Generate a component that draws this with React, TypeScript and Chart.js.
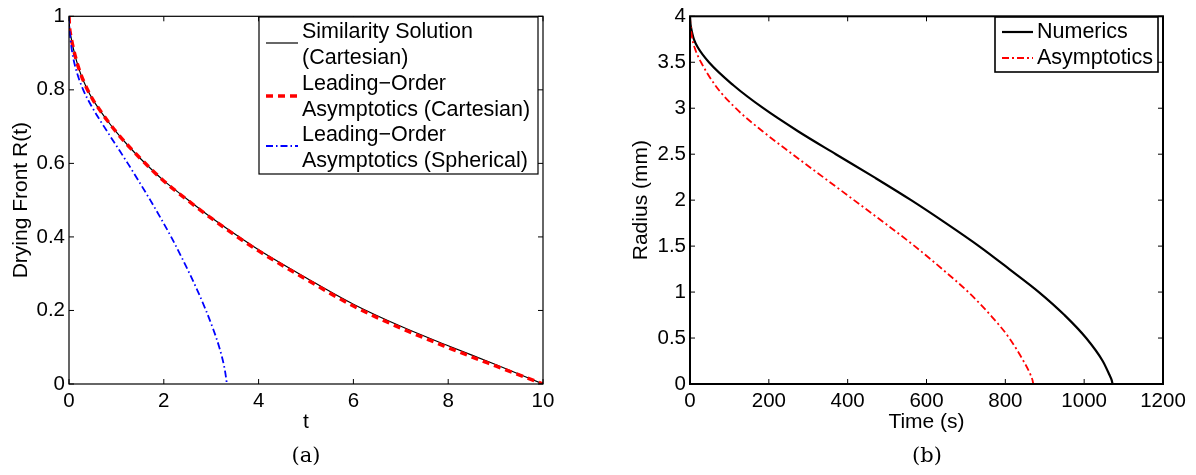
import React, { useEffect, useRef } from "react";
import { Chart, registerables } from "chart.js";

Chart.register(...registerables);

// ---------- tick values ----------
const xTicksA = [0, 2, 4, 6, 8, 10];
const yTicksA = [0, 0.2, 0.4, 0.6, 0.8, 1];
const xTicksB = [0, 200, 400, 600, 800, 1000, 1200];
const yTicksB = [0, 0.5, 1, 1.5, 2, 2.5, 3, 3.5, 4];

// ---------- panel (a) data ----------
const tSim = [0, 0.01, 0.03, 0.06, 0.1, 0.16, 0.25, 0.37, 0.5, 0.65, 0.8, 1, 1.25, 1.5, 2, 2.5, 3, 3.5, 4, 5, 6, 7, 8, 9, 10];
const rSim = [1, 0.972, 0.952, 0.932, 0.908, 0.878, 0.842, 0.806, 0.774, 0.745, 0.718, 0.685, 0.648, 0.614, 0.553, 0.502, 0.453, 0.408, 0.365, 0.289, 0.217, 0.157, 0.104, 0.053, 0];

const tCart = [0, 0.01, 0.03, 0.06, 0.1, 0.16, 0.25, 0.37, 0.5, 0.65, 0.8, 1, 1.25, 1.5, 2, 2.5, 3, 3.5, 4, 5, 6, 7, 8, 9, 10];
const rCart = [1, 0.972, 0.952, 0.932, 0.908, 0.878, 0.842, 0.806, 0.774, 0.745, 0.718, 0.685, 0.648, 0.614, 0.552, 0.5, 0.451, 0.405, 0.362, 0.285, 0.212, 0.152, 0.099, 0.049, 0];

const tSph = [0, 0.005, 0.02, 0.07, 0.16, 0.3, 0.5, 0.74, 0.99, 1.24, 1.48, 1.715, 1.94, 2.155, 2.355, 2.545, 2.725, 2.89, 3.04, 3.17, 3.27, 3.31, 3.33];
const rSph = [1, 0.975, 0.95, 0.9, 0.85, 0.8, 0.75, 0.7, 0.65, 0.6, 0.55, 0.5, 0.45, 0.4, 0.35, 0.3, 0.25, 0.2, 0.15, 0.1, 0.05, 0.02, 0];

// ---------- panel (b) data ----------
const sNum = [0, 1, 3, 6, 10, 20, 48, 110, 186, 274, 370, 467, 561, 649, 733, 810, 885, 950, 1005, 1047, 1064, 1070, 1072];
const rNum = [4, 3.93, 3.87, 3.81, 3.75, 3.66, 3.5, 3.25, 3.0, 2.75, 2.5, 2.25, 2.0, 1.75, 1.5, 1.25, 1.0, 0.75, 0.5, 0.25, 0.1, 0.04, 0];

const sAsy = [0, 1, 3, 6, 15, 28, 64, 116, 184, 260, 338, 416, 494, 570, 640, 706, 762, 810, 846, 864, 869, 871];
const rAsy = [4, 3.92, 3.84, 3.75, 3.62, 3.5, 3.25, 3.0, 2.75, 2.5, 2.25, 2.0, 1.75, 1.5, 1.25, 1.0, 0.75, 0.5, 0.25, 0.1, 0.04, 0];

// ---------- text ----------
const legendA = [
  ["Similarity Solution", "(Cartesian)"],
  ["Leading\u2212Order", "Asymptotics (Cartesian)"],
  ["Leading\u2212Order", "Asymptotics (Spherical)"],
];
const legendB = [["Numerics"], ["Asymptotics"]];
const xTitleA = "t";
const yTitleA = "Drying Front R(t)";
const xTitleB = "Time (s)";
const yTitleB = "Radius (mm)";
const captionA = "(a)";
const captionB = "(b)";

const FONT = "'Liberation Sans', Arial, Helvetica, sans-serif";
const SERIF = "'DejaVu Serif', 'Liberation Serif', serif";

const mk = (xs: number[], ys: number[]) => xs.map((x, i) => ({ x, y: ys[i] }));

function makeFrame(xTicks: number[], yTicks: number[], lw: number) {
  return {
    id: "frameTicks",
    afterDatasetsDraw(chart: any) {
      const { ctx, chartArea: a, scales } = chart;
      ctx.save();
      ctx.strokeStyle = "#000";
      ctx.lineWidth = lw;
      ctx.setLineDash([]);
      ctx.strokeRect(a.left, a.top, a.right - a.left, a.bottom - a.top);
      const L = 5;
      ctx.beginPath();
      for (const v of xTicks) {
        const px = scales.x.getPixelForValue(v);
        ctx.moveTo(px, a.bottom);
        ctx.lineTo(px, a.bottom - L);
        ctx.moveTo(px, a.top);
        ctx.lineTo(px, a.top + L);
      }
      for (const v of yTicks) {
        const py = scales.y.getPixelForValue(v);
        ctx.moveTo(a.left, py);
        ctx.lineTo(a.left + L, py);
        ctx.moveTo(a.right, py);
        ctx.lineTo(a.right - L, py);
      }
      ctx.lineWidth = 1;
      ctx.stroke();
      ctx.restore();
    },
  };
}

function makeLegend(cfg: any) {
  return {
    id: "boxLegend",
    afterDraw(chart: any) {
      const ctx = chart.ctx;
      ctx.save();
      ctx.fillStyle = "#fff";
      ctx.fillRect(cfg.x, cfg.y, cfg.w, cfg.h);
      ctx.strokeStyle = "#000";
      ctx.lineWidth = cfg.lw;
      ctx.strokeRect(cfg.x, cfg.y, cfg.w, cfg.h);
      cfg.entries.forEach((e: any) => {
        const ds = chart.data.datasets[e.ds];
        ctx.beginPath();
        ctx.setLineDash(ds.borderDash || []);
        ctx.lineWidth = ds.borderWidth;
        ctx.strokeStyle = ds.borderColor;
        ctx.moveTo(cfg.sx0, e.sy);
        ctx.lineTo(cfg.sx1, e.sy);
        ctx.stroke();
        ctx.setLineDash([]);
        ctx.fillStyle = "#000";
        ctx.font = `${cfg.fontSize}px ${FONT}`;
        ctx.textBaseline = "middle";
        ctx.textAlign = "left";
        e.lines.forEach((t: string, i: number) =>
          ctx.fillText(t, cfg.tx, e.cy + (i - (e.lines.length - 1) / 2) * cfg.lh)
        );
      });
      ctx.restore();
    },
  };
}

function axes(xMin: number, xMax: number, yMin: number, yMax: number, xTicks: number[], yTicks: number[], xTitle: string, yTitle: string, yWidth: number, yTitlePad: number) {
  const tickFont = { family: FONT, size: 20.5 };
  const titleFont = { family: FONT, size: 21 };
  return {
    x: {
      type: "linear",
      min: xMin,
      max: xMax,
      afterBuildTicks: (s: any) => {
        s.ticks = xTicks.map((v) => ({ value: v }));
      },
      afterFit: (s: any) => {
        s.height = 60;
      },
      grid: { display: false, drawTicks: false },
      border: { display: false },
      ticks: { font: tickFont, color: "#000", padding: 5, autoSkip: false, maxRotation: 0, minRotation: 0, callback: (v: any) => String(v) },
      title: { display: true, text: xTitle, font: titleFont, color: "#000", padding: { top: 0, bottom: 9 } },
    },
    y: {
      type: "linear",
      min: yMin,
      max: yMax,
      afterBuildTicks: (s: any) => {
        s.ticks = yTicks.map((v) => ({ value: v }));
      },
      afterFit: (s: any) => {
        s.width = yWidth;
      },
      grid: { display: false, drawTicks: false },
      border: { display: false },
      ticks: { font: tickFont, color: "#000", padding: 4, autoSkip: false, callback: (v: any) => String(v) },
      title: { display: true, text: yTitle, font: titleFont, color: "#000", padding: { top: yTitlePad, bottom: 0 } },
    },
  };
}

const lineBase = { showLine: true, pointRadius: 0, pointHoverRadius: 0, cubicInterpolationMode: "monotone", fill: false };

export default function App() {
  const refA = useRef<HTMLCanvasElement>(null);
  const refB = useRef<HTMLCanvasElement>(null);

  useEffect(() => {
    const chartA = new Chart(refA.current as HTMLCanvasElement, {
      type: "scatter",
      data: {
        datasets: [
          { ...lineBase, label: legendA[0].join(" "), data: mk(tSim, rSim), borderColor: "#000000", borderWidth: 1.2, borderDash: [], order: 3 },
          { ...lineBase, label: legendA[1].join(" "), data: mk(tCart, rCart), borderColor: "#ff0000", borderWidth: 3.5, borderDash: [7, 5], order: 2 },
          { ...lineBase, label: legendA[2].join(" "), data: mk(tSph, rSph), borderColor: "#0000ff", borderWidth: 1.8, borderDash: [7, 3, 1.5, 3], order: 1 },
        ],
      } as any,
      options: {
        responsive: false,
        animation: false,
        layout: { padding: { left: 0, top: 11, right: 55, bottom: 31 } },
        plugins: { legend: { display: false }, tooltip: { enabled: false } },
        scales: axes(0, 10, 0, 1, xTicksA, yTicksA, xTitleA, yTitleA, 69, 8.4) as any,
      },
      plugins: [
        makeFrame(xTicksA, yTicksA, 1.2),
        makeLegend({
          x: 259, y: 17, w: 279, h: 157, lw: 1.2, sx0: 266, sx1: 298, tx: 302, fontSize: 21.5, lh: 26,
          entries: [
            { ds: 0, lines: legendA[0], cy: 45, sy: 43 },
            { ds: 1, lines: legendA[1], cy: 97, sy: 96 },
            { ds: 2, lines: legendA[2], cy: 148, sy: 146 },
          ],
        }),
      ],
    });

    const chartB = new Chart(refB.current as HTMLCanvasElement, {
      type: "scatter",
      data: {
        datasets: [
          { ...lineBase, label: legendB[0][0], data: mk(sNum, rNum), borderColor: "#000000", borderWidth: 2.2, borderDash: [], order: 2 },
          { ...lineBase, label: legendB[1][0], data: mk(sAsy, rAsy), borderColor: "#ff0000", borderWidth: 1.8, borderDash: [7, 3, 2, 3], order: 1 },
        ],
      } as any,
      options: {
        responsive: false,
        animation: false,
        layout: { padding: { left: 0, top: 11, right: 33, bottom: 31 } },
        plugins: { legend: { display: false }, tooltip: { enabled: false } },
        scales: axes(0, 1200, 0, 4, xTicksB, yTicksB, xTitleB, yTitleB, 92, 30.4) as any,
      },
      plugins: [
        makeFrame(xTicksB, yTicksB, 2),
        makeLegend({
          x: 397, y: 17, w: 163, h: 55, lw: 1.6, sx0: 404, sx1: 435, tx: 439, fontSize: 21.5, lh: 26,
          entries: [
            { ds: 0, lines: legendB[0], cy: 32, sy: 32 },
            { ds: 1, lines: legendB[1], cy: 58, sy: 58 },
          ],
        }),
      ],
    });

    return () => {
      chartA.destroy();
      chartB.destroy();
    };
  }, []);

  const capStyle: React.CSSProperties = {
    position: "absolute",
    top: 442,
    width: 80,
    textAlign: "center",
    fontFamily: SERIF,
    fontSize: 21,
    lineHeight: "26px",
    color: "#000",
  };

  return (
    <div style={{ position: "fixed", left: 0, top: 0, width: 1196, height: 475, background: "#fff", overflow: "hidden" }}>
      <canvas ref={refA} width={598} height={475} style={{ position: "absolute", left: 0, top: 0, width: 598, height: 475 }} />
      <canvas ref={refB} width={598} height={475} style={{ position: "absolute", left: 598, top: 0, width: 598, height: 475 }} />
      <div style={{ ...capStyle, left: 306 - 40 }}>{captionA}</div>
      <div style={{ ...capStyle, left: 927 - 40 }}>{captionB}</div>
    </div>
  );
}
